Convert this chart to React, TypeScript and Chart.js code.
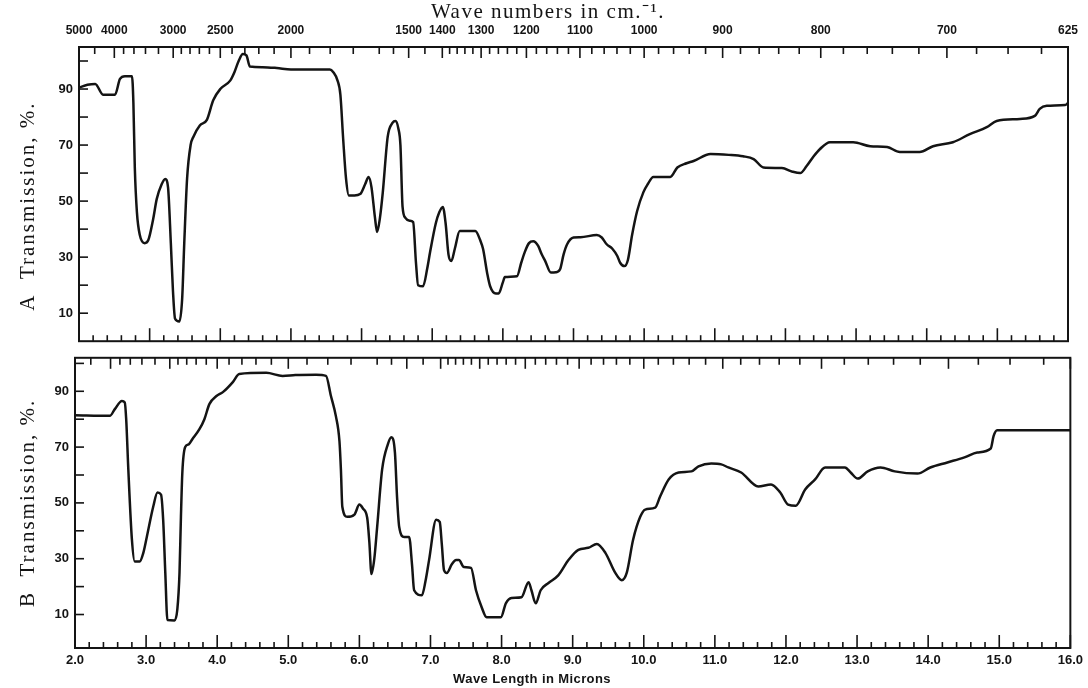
import React, { useEffect, useRef } from 'react';
import { Chart, registerables } from 'chart.js';
Chart.register(...registerables);

// Wavelength (microns) and transmission (%) for spectrum A
const waveA = [2.0, 2.12, 2.23, 2.34, 2.51, 2.58, 2.65, 2.75, 2.77, 2.79, 2.82, 2.86, 2.93, 2.98, 3.05, 3.1, 3.17, 3.22, 3.26, 3.3, 3.33, 3.36, 3.42, 3.46, 3.49, 3.53, 3.58, 3.62, 3.71, 3.81, 3.9, 4.0, 4.14, 4.2, 4.26, 4.32, 4.37, 4.42, 4.6, 4.8, 5.0, 5.3, 5.55, 5.6, 5.66, 5.7, 5.74, 5.78, 5.82, 5.9, 5.98, 6.05, 6.1, 6.14, 6.19, 6.22, 6.26, 6.3, 6.37, 6.44, 6.48, 6.52, 6.55, 6.58, 6.62, 6.68, 6.73, 6.77, 6.8, 6.87, 6.93, 6.97, 7.05, 7.1, 7.15, 7.19, 7.23, 7.27, 7.32, 7.39, 7.61, 7.68, 7.72, 7.78, 7.82, 7.9, 7.94, 8.0, 8.03, 8.2, 8.26, 8.31, 8.37, 8.43, 8.5, 8.55, 8.6, 8.68, 8.75, 8.81, 8.86, 8.91, 9.0, 9.1, 9.33, 9.4, 9.47, 9.55, 9.62, 9.66, 9.72, 9.77, 9.83, 9.9, 9.99, 10.05, 10.13, 10.37, 10.47, 10.6, 10.7, 10.94, 11.2, 11.4, 11.55, 11.69, 11.95, 12.1, 12.21, 12.3, 12.4, 12.49, 12.63, 12.96, 13.2, 13.44, 13.62, 13.9, 14.09, 14.37, 14.61, 14.85, 14.99, 15.32, 15.53, 15.6, 15.7, 15.96, 16.0];
const transA = [90.5, 91.5, 91.8, 88, 88, 93.6, 94.6, 94.6, 85, 62, 46, 38, 35, 36, 43.6, 50.7, 56, 57.9, 55, 35, 18, 8, 7, 15, 35, 58, 70, 73, 77, 79, 86, 90, 93, 96, 100, 102.5, 102, 98, 97.8, 97.5, 97, 97, 97, 96, 93, 88, 72, 58, 52, 52, 52.5, 56, 58.6, 55, 44, 39, 44, 53, 73, 78, 78.6, 76, 70, 48, 44, 43, 42.5, 28, 20, 19.6, 26, 31.8, 42, 46, 47.9, 42, 31, 28.6, 33, 39.3, 39.3, 36, 32.9, 24, 19.6, 17, 17, 21, 22.9, 23.2, 28, 31.8, 35, 35.7, 34, 31, 28.6, 24.5, 24.6, 25.7, 31, 34.6, 37, 37.1, 37.9, 37, 34.6, 33, 30.4, 28, 26.8, 29, 38, 46.4, 53.2, 56, 58.6, 58.6, 62, 63.5, 64.3, 66.8, 66.5, 66, 65, 62, 61.8, 60.5, 60, 62.5, 66, 68.6, 71, 71, 69.6, 69.3, 67.5, 67.5, 69.6, 71, 73.9, 76.4, 78.6, 79.3, 80.4, 82.9, 84, 84.3, 85];

// Wavelength (microns) and transmission (%) for spectrum B
const waveB = [2.0, 2.49, 2.56, 2.66, 2.7, 2.72, 2.75, 2.8, 2.84, 2.91, 2.96, 3.01, 3.1, 3.16, 3.21, 3.24, 3.27, 3.3, 3.4, 3.44, 3.47, 3.49, 3.51, 3.55, 3.6, 3.65, 3.75, 3.82, 3.89, 3.99, 4.08, 4.22, 4.31, 4.69, 4.92, 5.1, 5.39, 5.53, 5.6, 5.67, 5.72, 5.74, 5.76, 5.83, 5.93, 6.0, 6.05, 6.11, 6.14, 6.17, 6.21, 6.25, 6.32, 6.4, 6.45, 6.5, 6.53, 6.56, 6.63, 6.7, 6.74, 6.77, 6.88, 6.93, 6.98, 7.08, 7.13, 7.16, 7.19, 7.23, 7.3, 7.36, 7.4, 7.47, 7.57, 7.64, 7.72, 7.79, 7.99, 8.06, 8.14, 8.28, 8.38, 8.42, 8.48, 8.55, 8.66, 8.8, 8.94, 9.08, 9.22, 9.34, 9.46, 9.6, 9.69, 9.76, 9.85, 9.95, 10.02, 10.16, 10.23, 10.35, 10.49, 10.67, 10.77, 10.95, 11.09, 11.19, 11.37, 11.61, 11.79, 11.92, 12.03, 12.14, 12.27, 12.41, 12.55, 12.83, 12.91, 13.01, 13.15, 13.33, 13.53, 13.85, 14.03, 14.27, 14.51, 14.69, 14.88, 14.92, 14.97, 15.98, 16.0];
const transB = [81.4, 81.2, 83.6, 86.5, 86, 80, 62, 37, 29, 29, 32, 37.8, 48.6, 53.7, 53, 44, 25, 8, 7.9, 12, 25, 45, 61, 70, 71, 72.8, 76.4, 80, 85.4, 88.3, 89.7, 93.3, 96.2, 96.6, 95.5, 95.8, 95.9, 95.5, 88.3, 81, 72, 62, 48.6, 45, 45.8, 49.4, 48, 44.7, 36, 24.5, 30, 41.4, 62, 71, 73.5, 68, 52, 41.4, 37.8, 37.8, 28, 18.7, 16.9, 22, 29.5, 44, 43.2, 35, 25.9, 24.9, 28, 29.5, 29.5, 27, 26.7, 18.7, 12.6, 9, 9, 14, 15.9, 16.2, 21.6, 18.7, 14, 18.7, 21.3, 24.1, 29.5, 33.2, 33.9, 35.3, 32.1, 24.9, 22.3, 24.9, 36.8, 45, 47.6, 48.3, 52.3, 58.4, 60.9, 61.3, 63.1, 64.1, 63.8, 62.7, 60.9, 55.9, 56.6, 53.7, 49.4, 49, 54.8, 58.4, 62.7, 62.7, 60.9, 58.7, 61.3, 62.7, 61.3, 60.5, 62.7, 64.5, 66.3, 68.1, 69.5, 73.9, 76, 76, 76];

// Axis ticks and labels
const micronLabels = [2, 3, 4, 5, 6, 7, 8, 9, 10, 11, 12, 13, 14, 15, 16];
const wavenumberLabels = [5000, 4000, 3000, 2500, 2000, 1500, 1400, 1300, 1200, 1100, 1000, 900, 800, 700, 625];
const wavenumberTicks = [5000, 4500, 4000, 3800, 3600, 3400, 3200, 3000, 2900, 2800, 2700, 2600, 2500, 2400, 2300, 2200, 2100, 2000, 1900, 1800, 1700, 1600, 1550, 1500, 1450, 1400, 1380, 1360, 1340, 1320, 1300, 1280, 1260, 1240, 1220, 1200, 1180, 1160, 1140, 1120, 1100, 1080, 1060, 1040, 1020, 1000, 980, 960, 940, 920, 900, 880, 860, 840, 820, 800, 780, 760, 740, 720, 700, 680, 660, 640, 625];
const transTicks = [10, 20, 30, 40, 50, 60, 70, 80, 90, 100];
const transLabels = [10, 30, 50, 70, 90];

const INK = '#141414';
const labelFont = { family: 'Liberation Sans', weight: 'bold' as const, size: 13 };

const framePlugin = {
  id: 'frame',
  afterDatasetsDraw(chart: any, _args: any, opts: any) {
    const { ctx, chartArea: a, scales } = chart;
    const x = scales.x;
    const y = scales.y;
    ctx.save();
    ctx.strokeStyle = INK;
    ctx.lineWidth = 2;
    ctx.strokeRect(a.left, a.top, a.right - a.left, a.bottom - a.top);
    ctx.lineWidth = 1.6;
    const seg = (x1: number, y1: number, x2: number, y2: number) => {
      ctx.beginPath();
      ctx.moveTo(x1, y1);
      ctx.lineTo(x2, y2);
      ctx.stroke();
    };
    for (const v of transTicks) {
      const py = y.getPixelForValue(v);
      seg(a.left, py, a.left + 9, py);
    }
    for (let m = 0; m < micronLabels.length; m++) {
      const base = micronLabels[m];
      const px = x.getPixelForValue(base);
      seg(px, a.bottom, px, a.bottom - 13);
      if (m < micronLabels.length - 1) {
        for (let k = 1; k < 5; k++) {
          const pm = x.getPixelForValue(base + k * 0.2);
          seg(pm, a.bottom, pm, a.bottom - 6);
        }
      }
    }
    for (const w of wavenumberTicks) {
      const px = x.getPixelForValue(10000 / w);
      const major = wavenumberLabels.includes(w);
      seg(px, a.top, px, a.top + (major ? 11 : 7));
    }
    ctx.fillStyle = INK;
    ctx.textBaseline = 'middle';
    ctx.textAlign = 'center';
    if (opts && opts.text) {
      ctx.font = opts.font;
      (ctx as any).letterSpacing = opts.spacing || '0px';
      ctx.fillText(opts.text, opts.x, opts.y);
    }
    if (opts && opts.yTitle) {
      ctx.save();
      ctx.translate(28, (a.top + a.bottom) / 2 + (opts.yShift || 0));
      ctx.rotate(-Math.PI / 2);
      ctx.font = '21px "Liberation Serif"';
      (ctx as any).letterSpacing = '2px';
      ctx.fillText(opts.yTitle, 0, 0);
      ctx.restore();
    }
    ctx.restore();
  },
};

function makeConfig(panel: 'A' | 'B'): any {
  const isA = panel === 'A';
  const waves = isA ? waveA : waveB;
  const trans = isA ? transA : transB;
  const scales: any = {
    x: {
      type: 'linear',
      min: 2,
      max: 16,
      display: !isA,
      position: 'bottom',
      grid: { display: false, drawTicks: false },
      border: { display: false },
      afterBuildTicks: (s: any) => {
        s.ticks = micronLabels.map((v) => ({ value: v }));
      },
      afterFit: (s: any) => {
        s.height = isA ? 0 : 40;
      },
      ticks: {
        autoSkip: false,
        maxRotation: 0,
        minRotation: 0,
        padding: 5,
        color: INK,
        font: labelFont,
        callback: (v: number) => v.toFixed(1),
      },
    },
    y: {
      type: 'linear',
      min: isA ? 0 : -2,
      max: isA ? 105 : 102,
      grid: { display: false, drawTicks: false },
      border: { display: false },
      afterBuildTicks: (s: any) => {
        s.ticks = transTicks.map((v) => ({ value: v }));
      },
      afterFit: (s: any) => {
        s.width = isA ? 79 : 75;
      },
      ticks: {
        autoSkip: false,
        padding: 6,
        color: INK,
        font: labelFont,
        callback: (v: number) => (transLabels.includes(v) ? String(v) : ''),
      },
    },
  };
  if (isA) {
    scales.xTop = {
      type: 'linear',
      position: 'top',
      min: 2,
      max: 16,
      grid: { display: false, drawTicks: false },
      border: { display: false },
      afterBuildTicks: (s: any) => {
        s.ticks = wavenumberLabels.map((w) => ({ value: 10000 / w }));
      },
      afterFit: (s: any) => {
        s.height = 47;
      },
      ticks: {
        autoSkip: false,
        maxRotation: 0,
        minRotation: 0,
        padding: 9,
        color: INK,
        font: { family: 'Liberation Sans', weight: 'bold', size: 12 },
        callback: (v: number) => String(Math.round(10000 / v)),
      },
    };
  }
  return {
    type: 'line',
    data: {
      datasets: [
        {
          label: 'Spectrum ' + panel,
          data: waves.map((w, i) => ({ x: w, y: trans[i] })),
          borderColor: INK,
          borderWidth: 2.5,
          pointRadius: 0,
          fill: false,
          cubicInterpolationMode: 'monotone',
          xAxisID: 'x',
          yAxisID: 'y',
        },
      ],
    },
    options: {
      animation: false,
      responsive: false,
      layout: {
        padding: isA
          ? { left: 0, right: 20, top: 0, bottom: 0 }
          : { left: 0, right: 15, top: 0, bottom: 0 },
      },
      plugins: {
        legend: { display: false },
        tooltip: { enabled: false },
        frame: isA
          ? {
              text: 'Wave numbers in cm.\u207B\u00B9.',
              font: '21px "Liberation Serif"',
              spacing: '1.5px',
              x: 548,
              y: 12,
              yTitle: 'A  Transmission, %.',
              yShift: 12,
            }
          : {
              text: 'Wave Length in Microns',
              font: 'bold 13px "Liberation Sans"',
              spacing: '0.4px',
              x: 532,
              y: 335,
              yTitle: 'B  Transmission, %.',
              yShift: 0,
            },
      },
      scales,
    },
    plugins: [framePlugin],
  };
}

function Panel({ panel, top, height }: { panel: 'A' | 'B'; top: number; height: number }) {
  const ref = useRef<HTMLCanvasElement | null>(null);
  useEffect(() => {
    if (!ref.current) return;
    const chart = new Chart(ref.current, makeConfig(panel));
    return () => chart.destroy();
  }, [panel]);
  return (
    <canvas
      ref={ref}
      width={1088}
      height={height}
      style={{ position: 'absolute', left: 0, top, width: 1088, height }}
    />
  );
}

export default function App() {
  return (
    <div style={{ position: 'fixed', left: 0, top: 0, width: 1088, height: 688, background: '#fff' }}>
      <Panel panel="A" top={0} height={355} />
      <Panel panel="B" top={344} height={344} />
    </div>
  );
}
